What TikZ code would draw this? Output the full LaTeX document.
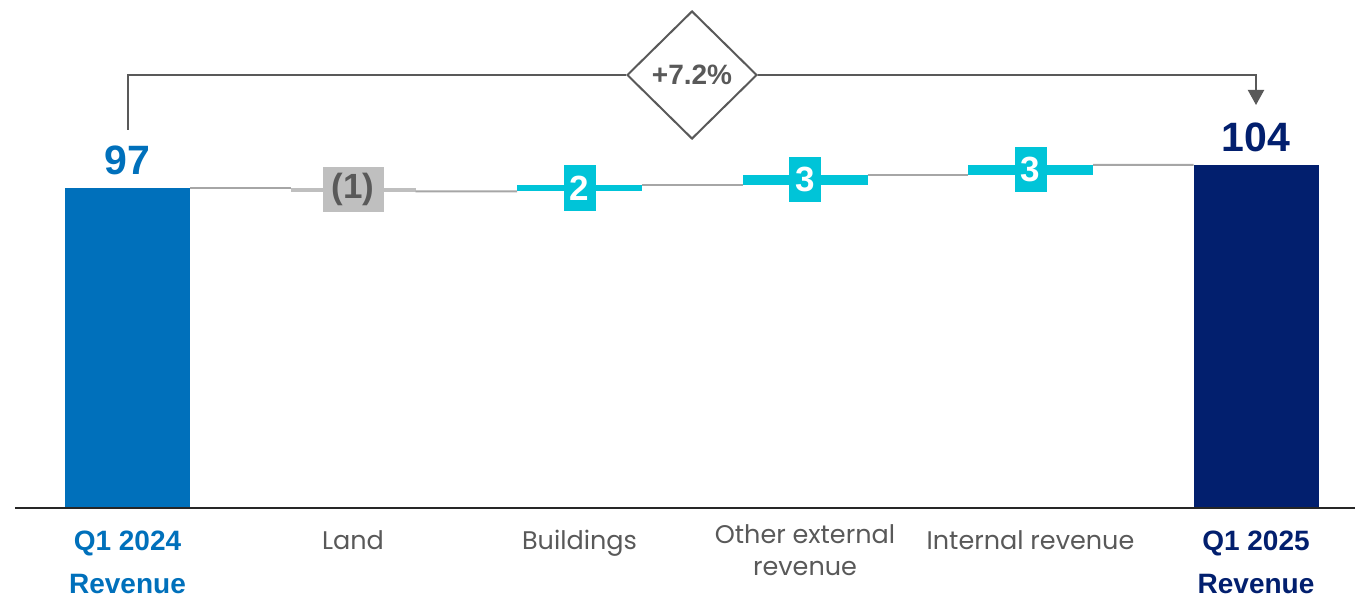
\documentclass[tikz,border=0pt]{standalone}
\usepackage{fontspec}
\setmainfont{Liberation Sans}
\newfontfamily\catfont{Poppins}
\usetikzlibrary{shapes.geometric,arrows.meta}
\definecolor{bluea}{RGB}{0,112,187}
\definecolor{navy}{RGB}{2,31,110}
\definecolor{cyanb}{RGB}{0,196,216}
\definecolor{dgray}{RGB}{89,89,89}
\definecolor{lgray}{RGB}{191,191,191}
\definecolor{cgray}{RGB}{166,166,166}
\tikzset{
  bar/.style={inner sep=0pt,outer sep=0pt,minimum width=125pt},
  conn/.style={draw=cgray,line width=2pt},
  vbox/.style={inner sep=0pt,minimum height=45pt,minimum width=32pt,font=\bfseries\fontsize{35}{35}\selectfont},
  cat/.style={font=\catfont\fontsize{25.5}{32}\selectfont,text=dgray,align=center,anchor=north},
  tot/.style={font=\bfseries\fontsize{28}{43}\selectfont,align=center,anchor=north},
  brk/.style={draw=dgray,line width=2pt},
}
\begin{document}
\begin{tikzpicture}[x=1pt,y=-1pt]
\useasboundingbox (0,0) rectangle (1355,599);
% bars
\node[bar,fill=bluea,minimum height=320pt,anchor=south] (b1) at (127.5,508) {};
\node[bar,fill=navy,minimum height=343pt,anchor=south] (b2) at (1256,508) {};
\node[bar,fill=lgray,minimum height=3.5pt,anchor=north] (land) at (353,188) {};
\node[bar,fill=cyanb,minimum height=6.6pt,anchor=south] (bld) at (579.5,191.3) {};
\node[bar,fill=cyanb,minimum height=9.9pt,anchor=south] (oth) at (805,184.7) {};
\node[bar,fill=cyanb,minimum height=9.9pt,anchor=south] (int) at (1030.5,174.8) {};
% connectors
\draw[conn] (b1.north east) -- (land.north west);
\draw[conn] (land.south east) -- (bld.south west);
\draw[conn] (bld.north east) -- (oth.south west);
\draw[conn] (oth.north east) -- (int.south west);
\draw[conn] (int.north east) -- (b2.north west);
% value boxes
\node[vbox,fill=lgray,text=dgray,minimum width=61pt] (vl) at (land.center) {(1)};
\node[vbox,fill=cyanb,text=white] (vb) at (bld.center) {2};
\node[vbox,fill=cyanb,text=white] (vo) at (oth.center) {3};
\node[vbox,fill=cyanb,text=white] (vi) at (int.center) {3};
% totals
\node[font=\bfseries\fontsize{41}{41}\selectfont,text=bluea] (t1) at (127.5,160) {97};
\node[font=\bfseries\fontsize{41}{41}\selectfont,text=navy] (t2) at (1256,137) {104};
% axis
\draw[line width=2pt,draw=black!85] (15,508) -- (1355,508);
% category labels
\node[tot,text=bluea] (c1) at (127.5,527) {Q1 2024\\Revenue};
\node[cat] (c2) at (353,527) {Land};
\node[cat] (c3) at (579.5,527) {Buildings};
\node[cat] (c4) at (805,521) {Other external\\revenue};
\node[cat] (c5) at (1030.5,527) {Internal revenue};
\node[tot,text=navy] (c6) at (1256,527) {Q1 2025\\Revenue};
% bracket
\node[diamond,draw=dgray,line width=2pt,fill=white,inner sep=0pt,minimum width=130pt,minimum height=128pt,text=dgray,font=\bfseries\fontsize{28}{28}\selectfont] (dia) at (692,75) {+7.2\%};
\coordinate (bl) at (127.5,130);
\coordinate (ar) at (1256,105);
\draw[brk] (bl) |- (dia.west);
\draw[brk,-{Triangle[width=16pt,length=15pt]}] (dia.east) -| (ar);
\end{tikzpicture}
\end{document}
